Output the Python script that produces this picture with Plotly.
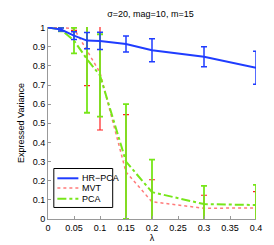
import plotly.graph_objects as go

lam = [0, 0.025, 0.05, 0.075, 0.1, 0.15, 0.2, 0.3, 0.4]

hr_pca = [1.0, 0.99, 0.958, 0.932, 0.93, 0.914, 0.882, 0.848, 0.79]
hr_pca_err = [0, 0.008, 0.02, 0.042, 0.045, 0.042, 0.06, 0.052, 0.086]

mvt = [1.0, 1.0, 0.995, 0.88, 0.765, 0.245, 0.09, 0.056, 0.058]
mvt_err = [0, 0.0, 0.01, 0.183, 0.30, 0.30, 0.115, 0.068, 0.085]

pca = [1.0, 0.99, 0.932, 0.835, 0.75, 0.30, 0.14, 0.078, 0.073]
pca_err = [0, 0.01, 0.067, 0.28, 0.215, 0.30, 0.17, 0.095, 0.105]

series_names = ["HR\u2212PCA", "MVT", "PCA"]

x_ticks = [0, 0.05, 0.1, 0.15, 0.2, 0.25, 0.3, 0.35, 0.4]
x_ticktext = ["0", "0.05", "0.1", "0.15", "0.2", "0.25", "0.3", "0.35", "0.4"]
y_ticks = [0, 0.1, 0.2, 0.3, 0.4, 0.5, 0.6, 0.7, 0.8, 0.9, 1.0]
y_ticktext = ["0", "0.1", "0.2", "0.3", "0.4", "0.5", "0.6", "0.7", "0.8", "0.9", "1"]

BLUE = "#1f3cff"
RED = "#ff2020"
RED_LINE = "#ff7a7a"
GREEN = "#77e61a"

FONT = "Liberation Sans, Arial, sans-serif"

fig = go.Figure()
fig.add_trace(go.Scatter(
    x=lam, y=mvt, name=series_names[1], mode="lines",
    line=dict(color=RED_LINE, width=1.5, dash="dot"),
    error_y=dict(type="data", array=mvt_err, color=RED, thickness=1.2, width=3),
))
fig.add_trace(go.Scatter(
    x=lam, y=pca, name=series_names[2], mode="lines",
    line=dict(color=GREEN, width=2, dash="dashdot"),
    error_y=dict(type="data", array=pca_err, color=GREEN, thickness=1.8, width=3),
))
fig.add_trace(go.Scatter(
    x=lam, y=hr_pca, name=series_names[0], mode="lines",
    line=dict(color=BLUE, width=2),
    error_y=dict(type="data", array=hr_pca_err, color=BLUE, thickness=1.5, width=3),
))

# Legend box drawn in paper coordinates (MATLAB-style compact legend)
shapes = [dict(type="rect", xref="paper", yref="paper", x0=0.028, x1=0.311, y0=0.06, y1=0.263,
               line=dict(color="#000000", width=1), fillcolor="white", layer="above")]
legend_rows = [0.212, 0.161, 0.106]
legend_styles = [dict(color=BLUE, width=2), dict(color=RED_LINE, width=1.5, dash="dot"),
                 dict(color=GREEN, width=2, dash="dashdot")]
annotations = []
for name, yy, st in zip(series_names, legend_rows, legend_styles):
    shapes.append(dict(type="line", xref="paper", yref="paper", x0=0.045, x1=0.146, y0=yy, y1=yy,
                       line=st, layer="above"))
    annotations.append(dict(text=name, xref="paper", yref="paper", x=0.155, y=yy, xanchor="left",
                            yanchor="middle", showarrow=False, font=dict(family=FONT, size=9, color="#000")))

fig.update_layout(
    width=274, height=245,
    margin=dict(l=36, r=26, t=19, b=28),
    paper_bgcolor="white", plot_bgcolor="white",
    font=dict(family=FONT, size=9, color="#000000"),
    showlegend=False,
    shapes=shapes, annotations=annotations,
    title=dict(text="\u03c3=20, mag=10, m=15", x=0.52, xanchor="center", y=0.975, yanchor="middle",
               font=dict(family=FONT, size=9)),
    xaxis=dict(
        range=[0, 0.4], tickvals=x_ticks, ticktext=x_ticktext,
        showgrid=False, zeroline=False, showline=True, linecolor="#999999", linewidth=1,
        ticks="inside", ticklen=3, tickcolor="#999999",
        title=dict(text="\u03bb", standoff=2, font=dict(size=9)),
    ),
    yaxis=dict(
        range=[0, 1.003], tickvals=y_ticks, ticktext=y_ticktext,
        showgrid=False, zeroline=False, showline=True, linecolor="#999999", linewidth=1,
        ticks="inside", ticklen=3, tickcolor="#999999",
        title=dict(text="Expressed Variance", standoff=6, font=dict(size=9)),
    ),
)

fig.write_html("out.html")
